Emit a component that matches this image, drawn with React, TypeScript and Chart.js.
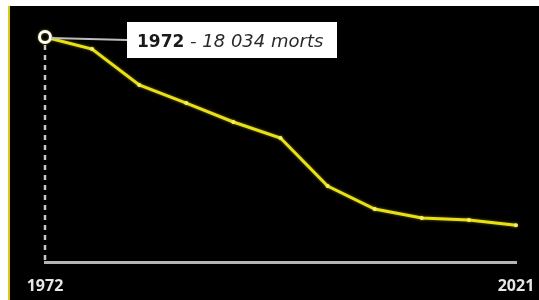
import React, { useEffect, useRef } from "react";
import { Chart, registerables } from "chart.js";

Chart.register(...registerables);

// Data
const years = ["1972", "1977", "1982", "1987", "1992", "1997", "2002", "2007", "2012", "2017", "2021"];
const deaths = [18034, 17070, 14190, 12740, 11220, 9940, 6090, 4250, 3530, 3370, 2950];
const tickYears = ["1972", "2021"];
const unitLabel = "morts";

const fmt = (n: number) => String(n).replace(/\B(?=(\d{3})+(?!\d))/g, " ");

const framePlugin = {
  id: "frame",
  beforeDraw(chart: any) {
    const { ctx, width, height } = chart;
    ctx.save();
    ctx.fillStyle = "#ffffff";
    ctx.fillRect(0, 0, width, height);
    ctx.fillStyle = "#000000";
    ctx.fillRect(10, 6, width - 10, height - 6);
    ctx.fillStyle = "#d9cc10";
    ctx.fillRect(8, 6, 2, height - 6);
    ctx.restore();
  },
  beforeDatasetsDraw(chart: any) {
    const { ctx, scales } = chart;
    const x = scales.x.getPixelForValue(0);
    const y0 = scales.y.getPixelForValue(deaths[0]);
    const yb = scales.y.getPixelForValue(0);
    ctx.save();
    ctx.strokeStyle = "#c8c8c8";
    ctx.lineWidth = 2.5;
    ctx.setLineDash([5, 5]);
    ctx.beginPath();
    ctx.moveTo(x, y0 + 8);
    ctx.lineTo(x, yb);
    ctx.stroke();
    ctx.restore();
  },
  beforeDatasetDraw(chart: any) {
    const { ctx } = chart;
    ctx.save();
    ctx.shadowColor = "rgba(235,225,0,0.45)";
    ctx.shadowBlur = 3;
  },
  afterDatasetDraw(chart: any) {
    chart.ctx.restore();
  },
  afterDraw(chart: any) {
    const { ctx, scales } = chart;
    const x0 = scales.x.getPixelForValue(0);
    const y0 = scales.y.getPixelForValue(deaths[0]);
    const boxX = x0 + 82;
    const boxY = y0 - 15;
    const boxW = 210;
    const boxH = 36;
    ctx.save();
    // connector
    ctx.strokeStyle = "#bdbdbd";
    ctx.lineWidth = 2;
    ctx.beginPath();
    ctx.moveTo(x0 + 6, y0 + 1);
    ctx.lineTo(boxX, y0 + 3);
    ctx.stroke();
    // box
    ctx.fillStyle = "#ffffff";
    ctx.fillRect(boxX, boxY, boxW, boxH);
    // text
    ctx.textBaseline = "alphabetic";
    ctx.textAlign = "left";
    const ty = boxY + 25;
    let tx = boxX + 10;
    ctx.fillStyle = "#1a1a1a";
    ctx.font = "bold 17px 'DejaVu Sans', sans-serif";
    const bold = years[0];
    ctx.fillText(bold, tx, ty);
    tx += ctx.measureText(bold).width;
    ctx.fillStyle = "#2a2a2a";
    ctx.font = "oblique 18px 'DejaVu Sans', sans-serif";
    ctx.fillText(" - " + fmt(deaths[0]) + " " + unitLabel, tx, ty);
    ctx.restore();
  },
};

export default function App() {
  const ref = useRef<HTMLCanvasElement | null>(null);
  useEffect(() => {
    if (!ref.current) return;
    const n = deaths.length;
    const chart = new Chart(ref.current, {
      type: "line",
      data: {
        labels: years,
        datasets: [
          {
            data: deaths,
            borderColor: "#e8e014",
            borderWidth: 3,
            tension: 0,
            clip: false,
            pointRadius: deaths.map((_, i) => (i === 0 ? 5.5 : 2)),
            pointBorderWidth: deaths.map((_, i) => (i === 0 ? 3 : 0)),
            pointBorderColor: deaths.map((_, i) => (i === 0 ? "#ffffff" : "#f4ef70")),
            pointBackgroundColor: deaths.map((_, i) => (i === 0 ? "#000000" : "#f4ef70")),
          },
        ],
      },
      options: {
        responsive: false,
        animation: false,
        layout: { padding: { left: 45, right: 23, top: 37, bottom: 4 } },
        plugins: { legend: { display: false }, tooltip: { enabled: false } },
        scales: {
          x: {
            type: "category",
            grid: { display: false, drawTicks: false },
            border: { display: true, color: "#b4b4b4", width: 3 },
            afterFit: (scale: any) => {
              scale.height = 34;
              scale.paddingLeft = 0;
              scale.paddingRight = 0;
            },
            ticks: {
              autoSkip: false,
              maxRotation: 0,
              padding: 15,
              color: "#e6e6e6",
              font: { size: 16, weight: "bold", family: "'Open Sans', sans-serif" },
              callback: (_v: any, i: number) => {
                const lab = years[i];
                return tickYears.includes(lab) && (i === 0 || i === n - 1) ? lab : "";
              },
            },
          },
          y: {
            display: false,
            min: 0,
            max: deaths[0],
          },
        },
      },
      plugins: [framePlugin],
    });
    return () => chart.destroy();
  }, []);
  return (
    <div style={{ position: "fixed", left: 0, top: 0, width: 539, height: 300 }}>
      <canvas ref={ref} width={539} height={300} style={{ display: "block" }} />
    </div>
  );
}
